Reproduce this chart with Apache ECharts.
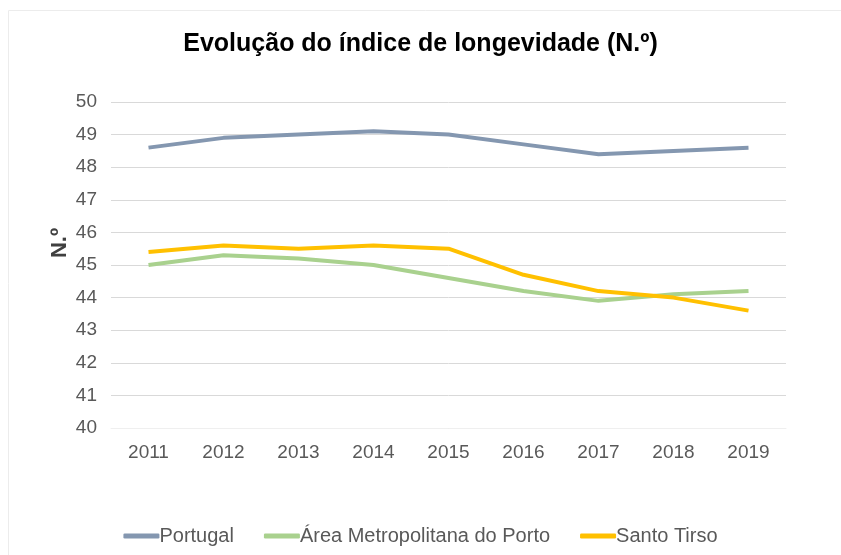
<!DOCTYPE html>
<html>
<head>
<meta charset="utf-8">
<script src="https://cdn.jsdelivr.net/npm/echarts@6/dist/echarts.min.js"></script>
<style>
    html, body { margin: 0; padding: 0; background: #fff; }
    #chart { width: 841px; height: 555px; }
</style>
</head>
<body>
<div id="chart"></div>
<script>
// 数据
const anos = ['2011', '2012', '2013', '2014', '2015', '2016', '2017', '2018', '2019'];
const portugal = [48.6, 48.9, 49.0, 49.1, 49.0, 48.7, 48.4, 48.5, 48.6];
const amp = [45.0, 45.3, 45.2, 45.0, 44.6, 44.2, 43.9, 44.1, 44.2];
const santoTirso = [45.4, 45.6, 45.5, 45.6, 45.5, 44.7, 44.2, 44.0, 43.6];

const fonte = 'Liberation Sans, Arial, sans-serif';

function lineSeries(name, data, color) {
    return {
        name: name,
        type: 'line',
        data: data,
        symbol: 'none',
        lineStyle: { color: color, width: 4 },
        itemStyle: { color: color }
    };
}

document.addEventListener('DOMContentLoaded', () => {
    const chart = echarts.init(document.getElementById('chart'));
    chart.setOption({
        animation: false,
        textStyle: { fontFamily: fonte },
        graphic: [{
            type: 'rect',
            shape: { x: 8.5, y: 10.5, width: 900, height: 600 },
            style: { fill: 'none', stroke: '#ececec', lineWidth: 1 },
            silent: true
        }],
        title: {
            text: 'Evolução do índice de longevidade (N.º)',
            left: 'center',
            top: 27,
            textStyle: { fontSize: 25, fontWeight: 'bold', color: '#000', fontFamily: fonte }
        },
        legend: {
            bottom: 4,
            left: 'center',
            itemWidth: 36,
            itemHeight: 5,
            itemGap: 30,
            icon: 'roundRect',
            textStyle: { fontSize: 20, color: '#595959', fontFamily: fonte, padding: [0, 0, 0, -5] },
            data: ['Portugal', 'Área Metropolitana do Porto', 'Santo Tirso']
        },
        grid: {
            left: 111,
            right: 55,
            top: 102,
            bottom: 127
        },
        xAxis: {
            type: 'category',
            data: anos,
            boundaryGap: true,
            axisLine: { lineStyle: { color: '#efefef', width: 1 } },
            axisTick: { show: false },
            axisLabel: { fontSize: 19, color: '#595959', margin: 15, fontFamily: fonte }
        },
        yAxis: {
            type: 'value',
            min: 40,
            max: 50,
            interval: 1,
            name: 'N.º',
            nameLocation: 'middle',
            nameRotate: 90,
            nameGap: 40,
            nameMoveOverlap: false,
            nameTextStyle: {
                fontSize: 22, fontWeight: 'bold', color: '#404040', fontFamily: fonte,
                padding: [0, 0, 0, 44]
            },
            axisLine: { show: false },
            axisTick: { show: false },
            axisLabel: { fontSize: 19, color: '#595959', margin: 14, fontFamily: fonte },
            splitLine: { lineStyle: { color: '#d9d9d9', width: 1 } }
        },
        series: [
            lineSeries('Portugal', portugal, '#8497b0'),
            lineSeries('Área Metropolitana do Porto', amp, '#a9d18e'),
            lineSeries('Santo Tirso', santoTirso, '#ffc000')
        ]
    });
});
</script>
</body>
</html>
